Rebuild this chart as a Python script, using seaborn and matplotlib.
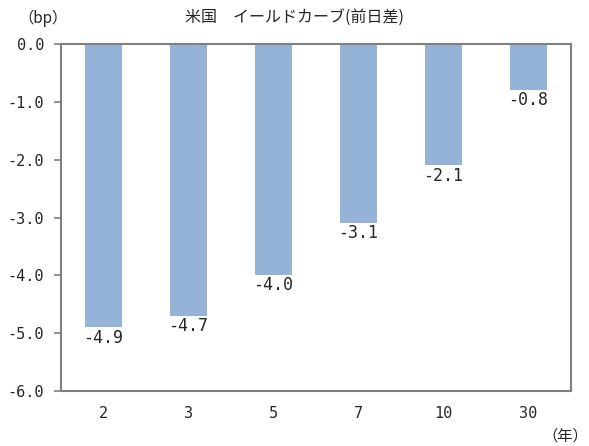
import seaborn as sns
import pandas as pd
import matplotlib.pyplot as plt

years = ['2', '3', '5', '7', '10', '30']
change = [-4.9, -4.7, -4.0, -3.1, -2.1, -0.8]
yticks = [0.0, -1.0, -2.0, -3.0, -4.0, -5.0, -6.0]

df = pd.DataFrame({'year': years, 'change': change})

sns.set_style('white')
plt.rcParams['font.family'] = ['Noto Sans CJK JP', 'DejaVu Sans']
num_font = ['DejaVu Sans Mono']

fig = plt.figure(figsize=(5.89, 4.46), dpi=100)
ax = fig.add_axes([61 / 589, 1 - 391 / 446, 510 / 589, 347 / 446])

sns.barplot(data=df, x='year', y='change', color='#95B3D7', width=0.43,
            saturation=1, linewidth=0, ax=ax)

ax.set_ylim(-6, 0)
ax.set_yticks(yticks)
ax.set_yticklabels([f'{v:.1f}' for v in yticks], fontsize=11, family=num_font)
ax.tick_params(axis='y', direction='out', length=5, width=1.2, color='#808080',
               left=True, pad=7)
ax.tick_params(axis='x', length=0, pad=11)
for lbl in ax.get_xticklabels():
    lbl.set_fontfamily(num_font)
    lbl.set_fontsize(11)
ax.set_xlabel('')
ax.set_ylabel('')
for s in ax.spines.values():
    s.set_color('#808080')
    s.set_linewidth(1.5)

for i, v in enumerate(change):
    ax.text(i, v - 0.02, f'{v:.1f}', ha='center', va='top', fontsize=12,
            family=num_font,
            bbox=dict(facecolor='white', edgecolor='none', pad=0.3))

fig.text(0.5, 1 - 17 / 446, '米国　イールドカーブ(前日差)', ha='center', va='center', fontsize=11.5)
fig.text(43 / 589, 1 - 18 / 446, '（bp）', ha='center', va='center', fontsize=11)
fig.text(565 / 589, 1 - 436 / 446, '（年）', ha='center', va='center', fontsize=11)

fig.savefig('out.png', dpi=100)
